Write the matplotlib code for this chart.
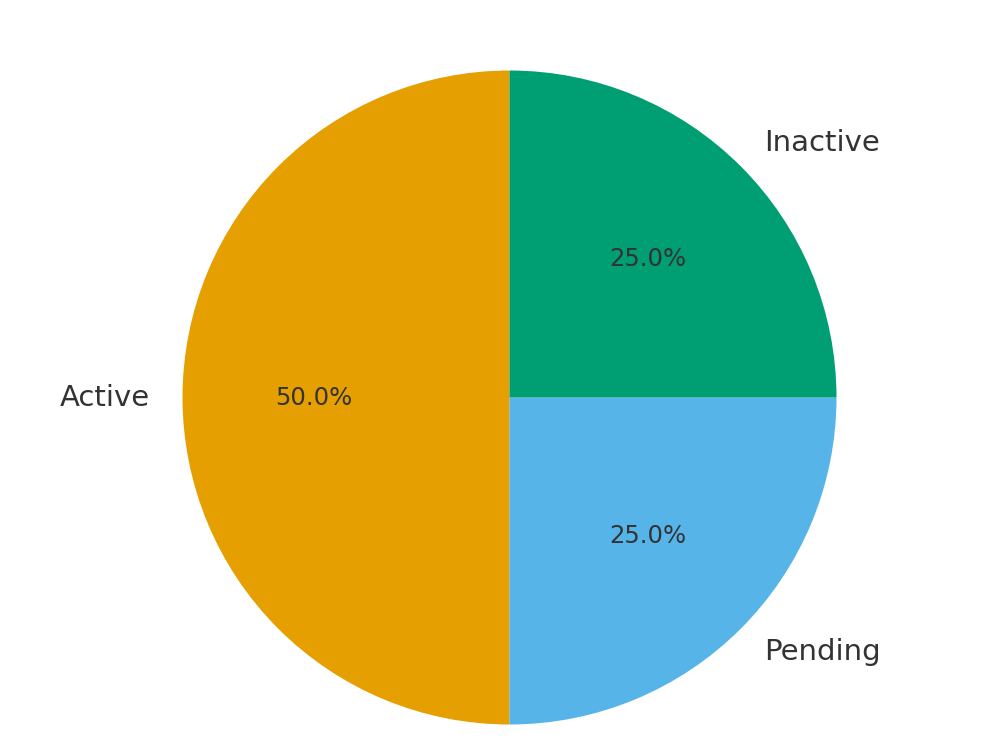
import matplotlib.pyplot as plt

labels = ["Active", "Pending", "Inactive"]
shares = [50, 25, 25]
colors = ["#E69F00", "#56B4E9", "#009E73"]

fig = plt.figure(figsize=(10, 7.5), dpi=100)
ax = fig.add_axes([0, 0, 1, 1])

wedges, texts, autotexts = ax.pie(
    shares, labels=labels, colors=colors, startangle=90,
    autopct="%1.1f%%", labeldistance=1.1, pctdistance=0.6,
    textprops={"color": "#333333"})
for t in texts:
    t.set_fontsize(21)
for t in autotexts:
    t.set_fontsize(17.5)

# place the pie: radius ~327 px, centre at (509, 398) from top-left
r = 327.0
ax.set_xlim(-509.5 / r, (1000 - 509.5) / r)
ax.set_ylim(-(750 - 397.5) / r, 397.5 / r)
ax.set_aspect("auto")
ax.axis("off")

fig.savefig("out.png", dpi=100)
